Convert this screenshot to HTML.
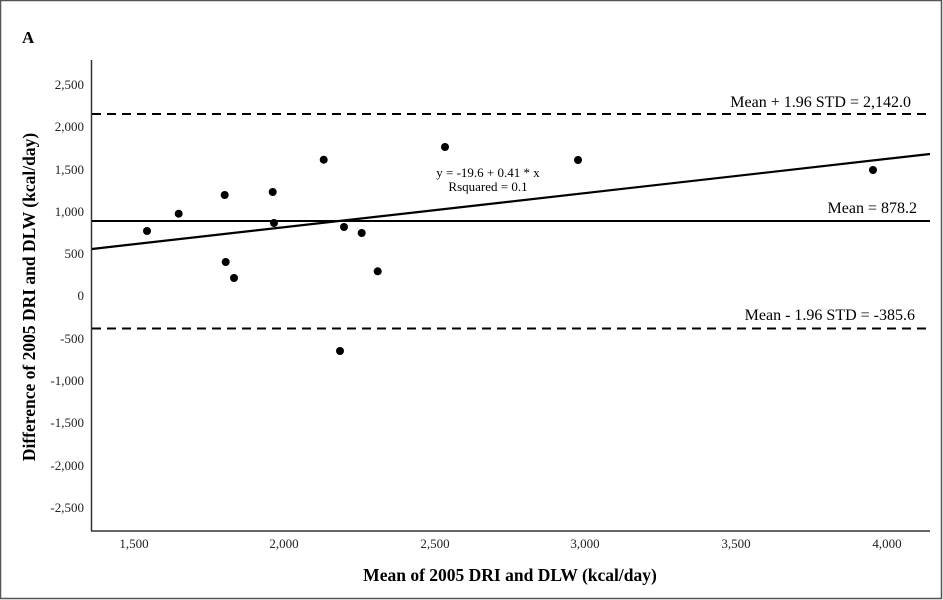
<!DOCTYPE html>
<html><head><meta charset="utf-8"><style>
html,body{margin:0;padding:0;background:#fff;}
svg{display:block;font-family:"Liberation Serif",serif;}
</style></head><body>
<svg width="943" height="600" viewBox="0 0 943 600" xmlns="http://www.w3.org/2000/svg">
<rect x="0.5" y="0.5" width="941" height="598" fill="#fff" stroke="#555" stroke-width="1.5"/>
<text x="22" y="43" font-size="17" font-weight="bold">A</text>
<line x1="91.5" y1="60" x2="91.5" y2="531" stroke="#333" stroke-width="1.5"/>
<line x1="91" y1="531" x2="930" y2="531" stroke="#333" stroke-width="1.5"/>
<g font-size="13" text-anchor="end" fill="#222">
<text x="84" y="89">2,500</text>
<text x="84" y="131">2,000</text>
<text x="84" y="174">1,500</text>
<text x="84" y="216">1,000</text>
<text x="84" y="258">500</text>
<text x="84" y="300">0</text>
<text x="84" y="343">-500</text>
<text x="84" y="385">-1,000</text>
<text x="84" y="427">-1,500</text>
<text x="84" y="470">-2,000</text>
<text x="84" y="512">-2,500</text>
</g>
<g font-size="13" text-anchor="middle" fill="#222">
<text x="134" y="548">1,500</text>
<text x="284" y="548">2,000</text>
<text x="435" y="548">2,500</text>
<text x="585" y="548">3,000</text>
<text x="736" y="548">3,500</text>
<text x="887" y="548">4,000</text>
</g>
<text x="510" y="581" font-size="17.5" font-weight="bold" text-anchor="middle">Mean of 2005 DRI and DLW (kcal/day)</text>
<text transform="translate(35,297) rotate(-90)" font-size="17.5" font-weight="bold" text-anchor="middle">Difference of 2005 DRI and DLW (kcal/day)</text>
<line x1="92" y1="114" x2="930" y2="114" stroke="#000" stroke-width="2" stroke-dasharray="9,6"/>
<line x1="92" y1="328.5" x2="930" y2="328.5" stroke="#000" stroke-width="2" stroke-dasharray="9,6"/>
<line x1="92" y1="221" x2="930" y2="221" stroke="#000" stroke-width="2"/>
<line x1="92" y1="249" x2="930" y2="154" stroke="#000" stroke-width="2.2"/>
<g font-size="16" text-anchor="end">
<text x="911" y="107">Mean + 1.96 STD = 2,142.0</text>
<text x="917" y="213">Mean = 878.2</text>
<text x="915" y="320">Mean - 1.96 STD = -385.6</text>
</g>
<g font-size="13" text-anchor="middle">
<text x="488" y="177">y = -19.6 + 0.41 * x</text>
<text x="488" y="191">Rsquared = 0.1</text>
</g>
<g fill="#000">
<circle cx="147" cy="231" r="4"/>
<circle cx="178.7" cy="213.7" r="4"/>
<circle cx="224.7" cy="195" r="4"/>
<circle cx="225.7" cy="262" r="4"/>
<circle cx="234" cy="278" r="4"/>
<circle cx="272.7" cy="192" r="4"/>
<circle cx="274" cy="223" r="4"/>
<circle cx="323.7" cy="159.7" r="4"/>
<circle cx="340" cy="351" r="4"/>
<circle cx="344" cy="227" r="4"/>
<circle cx="361.7" cy="233" r="4"/>
<circle cx="377.7" cy="271.3" r="4"/>
<circle cx="445" cy="147" r="4"/>
<circle cx="578" cy="160" r="4"/>
<circle cx="873" cy="170" r="4"/>
</g>
</svg>
</body></html>
